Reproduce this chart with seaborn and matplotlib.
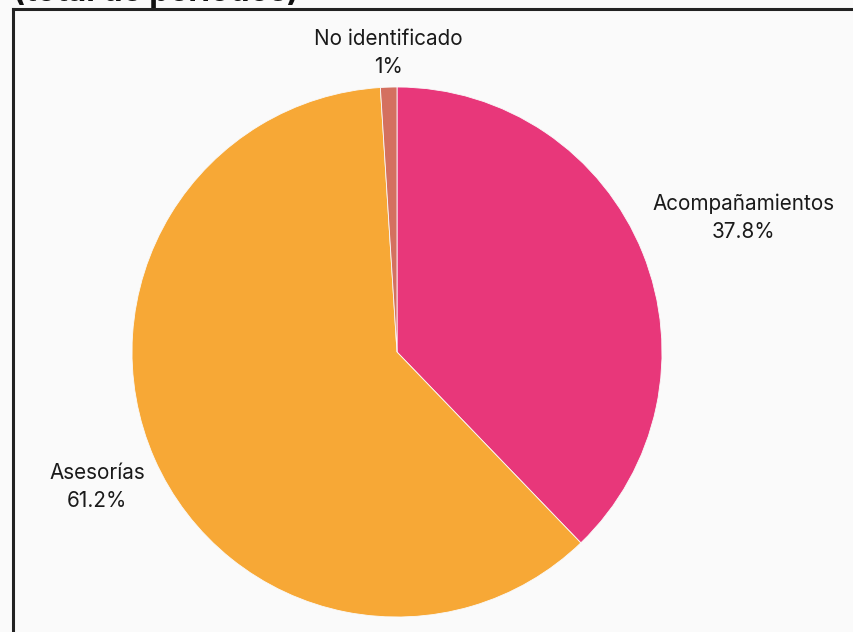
import numpy as np
import matplotlib
matplotlib.use("Agg")
import matplotlib.pyplot as plt
import matplotlib.transforms as mtransforms
import seaborn as sns

# =========================
# Datos
# =========================
categorias = ["Acompañamientos", "Asesorías", "No identificado"]
porcentajes = [37.8, 61.2, 1.0]
etiquetas_pct = ["37.8%", "61.2%", "1%"]
colores = ["#e8377a", "#f7a836", "#d4705f"]

titulo = "Distribución de servicios\n(total de periodos)"

# =========================
# Estilo
# =========================
sns.set_theme(style="white")
plt.rcParams["font.family"] = ["Inter", "DejaVu Sans"]
fondo = "#fafafa"

fig = plt.figure(figsize=(8.54, 6.32), dpi=100, facecolor=fondo)

# ejes: borde izquierdo en x=13px, borde superior en y=9px, el resto sale del lienzo
W, H = 854, 632
ax_left, ax_top = 13, 9
ax_w, ax_bottom_px = 870, 665
ax = fig.add_axes([ax_left / W, 1 - ax_bottom_px / H,
                   ax_w / W, (ax_bottom_px - ax_top) / H])
ax.set_facecolor(fondo)

# pie: centro (397, 352) px, radio 265 px
cx, cy, r = 397, 352, 265
wedges, _ = ax.pie(
    porcentajes,
    colors=colores,
    startangle=90,
    counterclock=False,
    radius=1,
    wedgeprops=dict(edgecolor=fondo, linewidth=0.6),
)
ax.set_aspect("auto")
ax.set_xlim((ax_left - cx) / r, (ax_left + ax_w - cx) / r)
ax.set_ylim((cy - ax_bottom_px) / r, (cy - ax_top) / r)

# pequeños ajustes verticales de etiquetas (en puntos)
ajuste_y = {"Acompañamientos": 5}

# etiquetas fuera del pie, caja anclada según la dirección del sector
for w, cat, pct in zip(wedges, categorias, etiquetas_pct):
    ang = np.deg2rad((w.theta1 + w.theta2) / 2)
    c, s = np.cos(ang), np.sin(ang)
    if c > 0.3:
        ha = "left"
    elif c < -0.3:
        ha = "right"
    else:
        ha = "center"
    va = "bottom" if s > 0 else "top"
    trans = ax.transData + mtransforms.ScaledTranslation(
        0, ajuste_y.get(cat, 0) / 72, fig.dpi_scale_trans)
    ax.text(1.04 * c, 1.04 * s, f"{cat}\n{pct}", ha=ha, va=va,
            multialignment="center", fontsize=14.9, color="#1a1a1a",
            linespacing=1.5, transform=trans)

# marco (pie lo apaga)
ax.set_frame_on(True)
for lado in ["left", "top", "right", "bottom"]:
    ax.spines[lado].set_visible(True)
    ax.spines[lado].set_color("#222222")
    ax.spines[lado].set_linewidth(2.2)
ax.set_xticks([])
ax.set_yticks([])

# título (cortado por arriba, como en la captura)
fig.text(ax_left / W, 1 - 1.5 / H, titulo, ha="left", va="baseline",
         fontsize=23, fontweight="bold", color="#111111", linespacing=1.2)

fig.savefig("out.png", dpi=100, facecolor=fondo)
